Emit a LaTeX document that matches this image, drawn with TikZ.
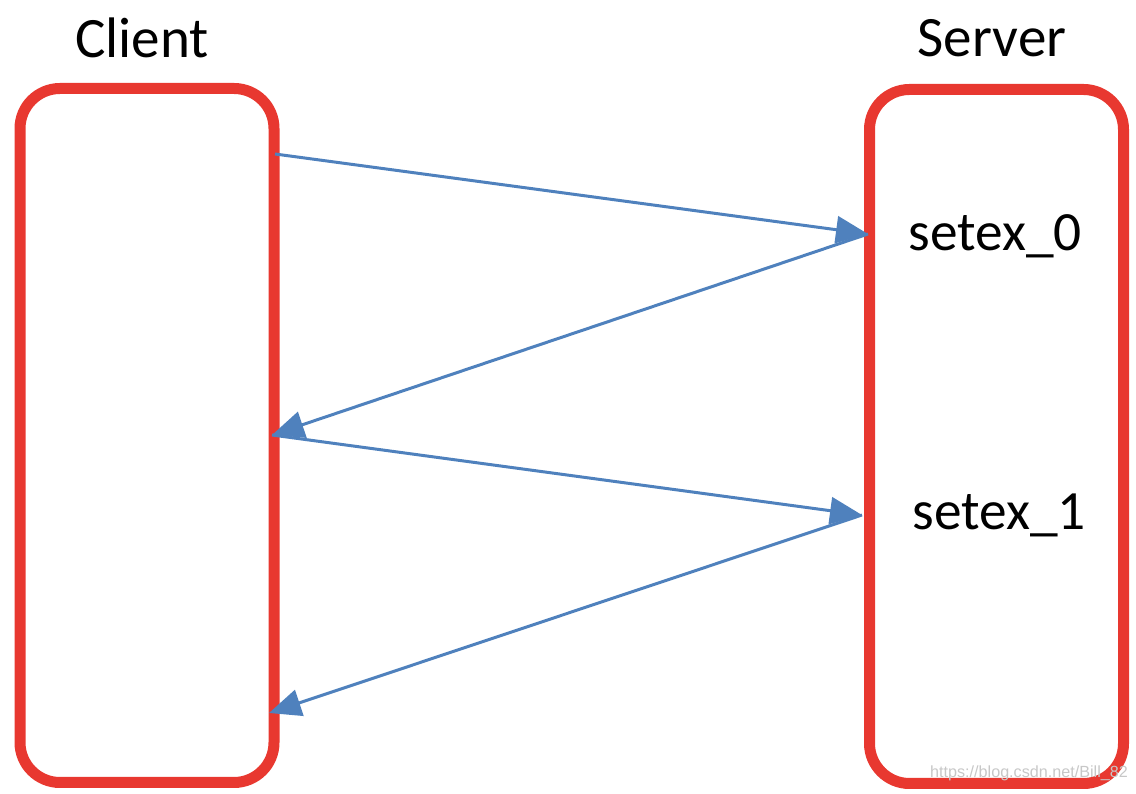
\documentclass[tikz,border=0pt]{standalone}
\usepackage{fontspec}
\setmainfont{Carlito}
\newfontfamily\wmfont{Liberation Sans}
\usetikzlibrary{arrows.meta}
\definecolor{boxred}{RGB}{232,56,48}
\definecolor{msgblue}{RGB}{79,129,189}
\begin{document}
\begin{tikzpicture}[>={Triangle[length=0.64cm,width=0.54cm]},
  side/.style={draw=boxred, line width=0.22cm, rounded corners=0.8cm,
    inner sep=0pt, minimum width=5.08cm, minimum height=13.88cm},
  msg/.style={->, draw=msgblue, line width=0.06cm},
  title/.style={font=\fontsize{32.5}{38}\selectfont},
  call/.style={font=\fontsize{31.5}{38}\selectfont}]
  \useasboundingbox (0,0) rectangle (22.72,15.88);
  % the two sides
  \node[side] (client) at (2.94,7.17) {};
  \node[side] (server) at (19.93,7.15) {};
  \node[title] (clientlbl) at (2.84,15.12) {Client};
  \node[title] (serverlbl) at (19.84,15.12) {Server};
  % calls on the server
  \node[call] (set0) at (19.90,11.16) {setex\_0};
  \node[call] (set1) at (19.98,5.58) {setex\_1};
  % ends of the messages
  \coordinate (c0) at (5.50,12.80);
  \coordinate (s0) at (17.36,11.20);
  \coordinate (c1) at (5.44,7.18);
  \coordinate (s1) at (17.24,5.58);
  \coordinate (c2) at (5.38,1.62);
  % requests and replies
  \draw[msg] (c0) -- (s0);
  \draw[msg] (s0) -- (c1);
  \draw[msg] (c1) -- (s1);
  \draw[msg] (s1) -- (c2);
  % watermark
  \node[white!78!black, font=\wmfont\fontsize{9.2}{11}\selectfont] (mark)
    at (20.58,0.42) {https://blog.csdn.net/Bill\_82};
\end{tikzpicture}
\end{document}
